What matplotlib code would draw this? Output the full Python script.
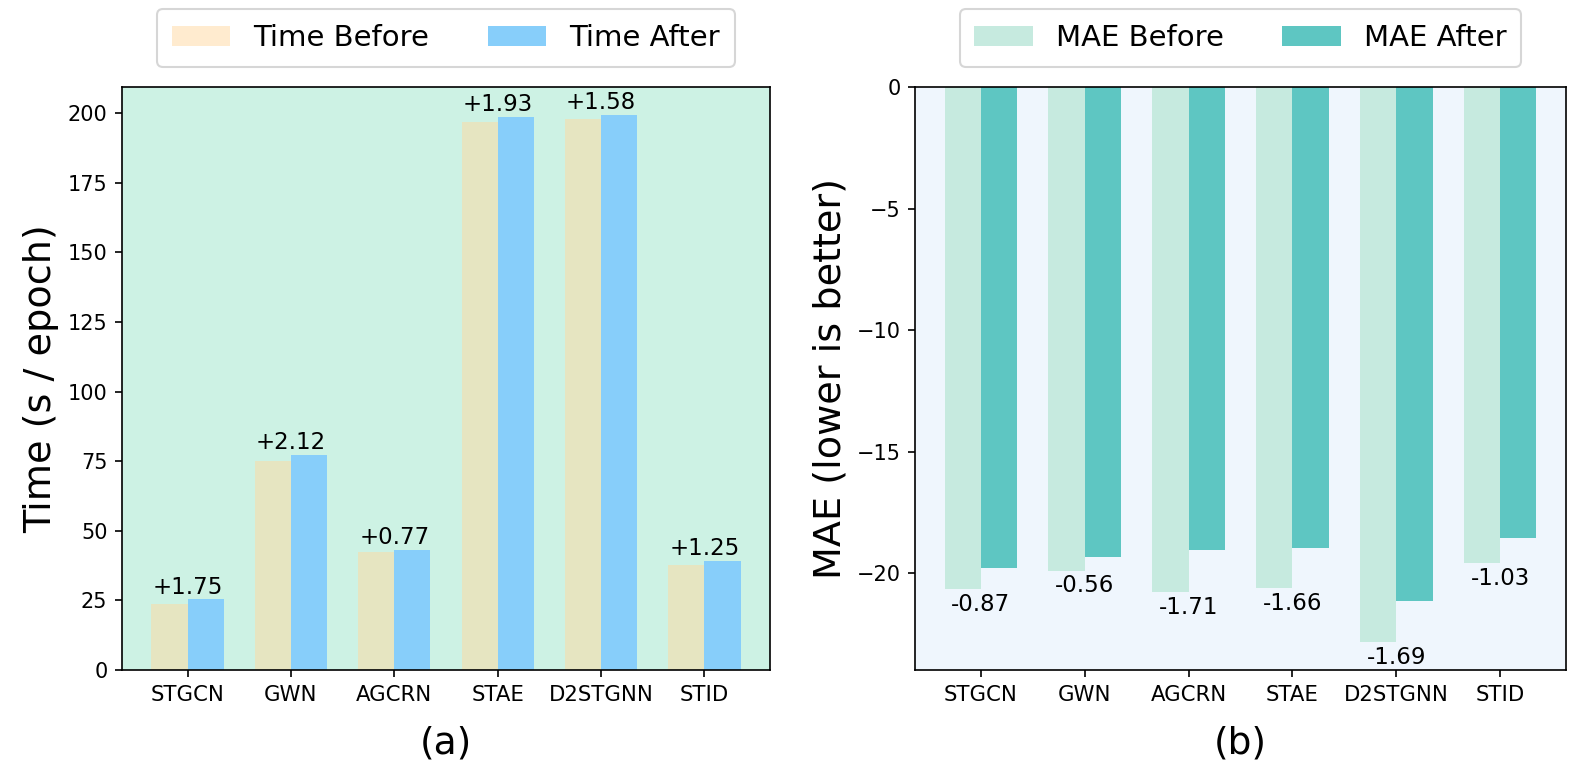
import matplotlib
matplotlib.use("Agg")
import matplotlib.pyplot as plt
import numpy as np

models = ["STGCN", "GWN", "AGCRN", "STAE", "D2STGNN", "STID"]
time_before = [23.6, 75.2, 42.5, 196.7, 197.8, 37.8]
time_after = [25.35, 77.32, 43.27, 198.63, 199.38, 39.05]
time_delta_labels = ["+1.75", "+2.12", "+0.77", "+1.93", "+1.58", "+1.25"]

mae_before = [-20.64, -19.89, -20.76, -20.62, -22.83, -19.58]
mae_after = [-19.77, -19.33, -19.05, -18.96, -21.14, -18.55]
mae_delta_labels = ["-0.87", "-0.56", "-1.71", "-1.66", "-1.69", "-1.03"]

W, H, DPI = 1577, 775, 150
fig = plt.figure(figsize=(W / DPI, H / DPI), dpi=DPI)

ax1 = fig.add_axes([122 / W, 1 - 670 / H, (770 - 122) / W, (670 - 87) / H])
ax2 = fig.add_axes([915 / W, 1 - 670 / H, (1566 - 915) / W, (670 - 87) / H])

x = np.arange(len(models))
w = 0.35

# ---- (a) time ----
ax1.set_facecolor("#CDF2E4")
ax1.bar(x - w / 2, time_before, w, color="#FFD9A0", alpha=0.5, label="Time Before")
ax1.bar(x + w / 2, time_after, w, color="#87CEFA", label="Time After")
for i in range(len(models)):
    top = max(time_before[i], time_after[i])
    ax1.text(x[i], top + 0.3, time_delta_labels[i], ha="center", va="bottom", fontsize=11)
ax1.set_ylim(0, max(time_after) * 1.05)
ax1.set_xticks(x)
ax1.set_xticklabels(models, fontsize=10.2)
ax1.tick_params(axis="y", labelsize=10)
ax1.set_ylabel("Time (s / epoch)", fontsize=18.3)
ax1.set_xlabel("(a)", fontsize=18, labelpad=10)
ax1.legend(loc="lower center", bbox_to_anchor=(0.5, 1.01), ncol=2, fontsize=14,
           borderpad=0.5)

# ---- (b) MAE ----
ax2.set_facecolor("#EFF6FD")
ax2.bar(x - w / 2, mae_before, w, color="#C6EADF", label="MAE Before")
ax2.bar(x + w / 2, mae_after, w, color="#5EC6C2", label="MAE After")
for i in range(len(models)):
    bottom = min(mae_before[i], mae_after[i])
    ax2.text(x[i], bottom - 0.15, mae_delta_labels[i], ha="center", va="top", fontsize=11)
ax2.set_ylim(min(mae_before) * 1.05, 0)
ax2.set_xticks(x)
ax2.set_xticklabels(models, fontsize=10.2)
ax2.tick_params(axis="y", labelsize=10)
ax2.set_ylabel("MAE (lower is better)", fontsize=18.3)
ax2.set_xlabel("(b)", fontsize=18, labelpad=10)
ax2.legend(loc="lower center", bbox_to_anchor=(0.5, 1.01), ncol=2, fontsize=14,
           borderpad=0.5)

fig.savefig("out.png", dpi=DPI)
